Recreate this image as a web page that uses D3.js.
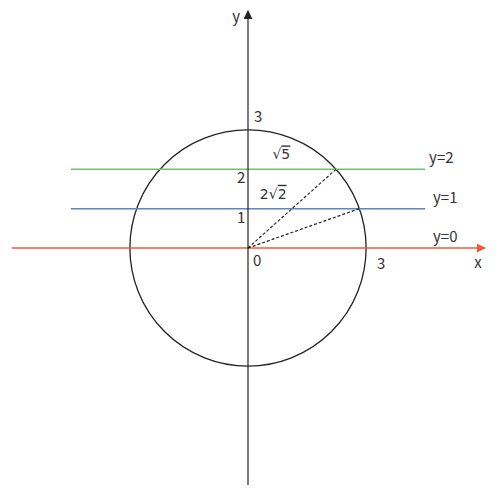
<!DOCTYPE html>
<html>
<head>
<meta charset="utf-8">
<script src="https://cdn.jsdelivr.net/npm/d3@7"></script>
<style>
  body { margin: 0; background: #fff; }
  text { font-family: "Noto Sans CJK KR", "Noto Sans", sans-serif; font-size: 15px; fill: #333; }
  .rad { font-family: "DejaVu Sans", sans-serif; font-size: 14px; }
  .under { text-decoration: overline; }
</style>
</head>
<body>
<div id="ChartArea"></div>
<script>
// data
const radius = 3;
const hLines = [
  { y: 2, label: "y=2", color: "#6fc36f" },
  { y: 1, label: "y=1", color: "#5f85c2" },
];
const xAxisLine = { y: 0, label: "y=0", color: "#ef5b3a" };
const chords = [
  { x: Math.sqrt(5), y: 2, coef: "", radicand: "5" },
  { x: Math.sqrt(8), y: 1, coef: "2", radicand: "2" }
];
const yTicks = [1, 2, 3];
const xTicks = [3];

const W = 496, H = 497;

// same scale on both axes, origin at (248,248)
const x = d3.scaleLinear().domain([-6.02, 6.02]).range([11, 485]);
const y = d3.scaleLinear().domain([-6.02, 6.02]).range([485, 11]);

const svg = d3.select("#ChartArea").append("svg")
    .attr("width", W)
    .attr("height", H);

const defs = svg.append("defs");
function arrow(id, color) {
  defs.append("marker")
      .attr("id", id)
      .attr("viewBox", "0 0 10 10")
      .attr("refX", 9).attr("refY", 5)
      .attr("markerWidth", 9).attr("markerHeight", 9)
      .attr("markerUnits", "userSpaceOnUse")
      .attr("orient", "auto")
    .append("path")
      .attr("d", "M0,0 L10,5 L0,10 Z")
      .attr("fill", color);
}
arrow("arrowRed", xAxisLine.color);
arrow("arrowBlack", "#222");

// circle
svg.append("circle")
    .attr("cx", x(0)).attr("cy", y(0))
    .attr("r", x(radius) - x(0))
    .attr("fill", "none")
    .attr("stroke", "#222")
    .attr("stroke-width", 1.3);

// horizontal lines y=1, y=2
svg.selectAll(".hline")
  .data(hLines)
  .enter().append("line")
    .attr("class", "hline")
    .attr("x1", x(-4.5)).attr("x2", x(4.5))
    .attr("y1", d => y(d.y)).attr("y2", d => y(d.y))
    .attr("stroke", d => d.color)
    .attr("stroke-width", 1.5);

// x axis (y=0) in red
svg.append("line")
    .attr("x1", x(-6)).attr("x2", x(6.02))
    .attr("y1", y(0)).attr("y2", y(0))
    .attr("stroke", xAxisLine.color)
    .attr("stroke-width", 1.5)
    .attr("marker-end", "url(#arrowRed)");

// y axis
svg.append("line")
    .attr("x1", x(0)).attr("x2", x(0))
    .attr("y1", y(-6.02)).attr("y2", y(6.02))
    .attr("stroke", "#222")
    .attr("stroke-width", 1.2)
    .attr("marker-end", "url(#arrowBlack)");

// dashed radii
svg.selectAll(".chord")
  .data(chords)
  .enter().append("line")
    .attr("class", "chord")
    .attr("x1", x(0)).attr("y1", y(0))
    .attr("x2", d => x(d.x)).attr("y2", d => y(d.y))
    .attr("stroke", "#222")
    .attr("stroke-width", 1.2)
    .attr("stroke-dasharray", "3,2");

// line labels on the right
svg.selectAll(".hlabel")
  .data(hLines.concat([xAxisLine]))
  .enter().append("text")
    .attr("class", "hlabel")
    .attr("x", (d, i) => i === 0 ? x(4.6) : x(4.7))
    .attr("y", d => y(d.y) - 6)
    .text(d => d.label);

// radius labels (√5, 2√2)
const radPos = [[0.62, 2.25], [0.3, 1.25]];
chords.forEach(function(d, i) {
  const t = svg.append("text")
      .attr("class", "rad")
      .attr("x", x(radPos[i][0]))
      .attr("y", y(radPos[i][1]));
  if (d.coef) t.append("tspan").text(d.coef);
  t.append("tspan").text("√");
  t.append("tspan").attr("class", "under").text(d.radicand);
});

// y tick labels
svg.selectAll(".ytick")
  .data(yTicks)
  .enter().append("text")
    .attr("class", "ytick")
    .attr("x", d => d === 3 ? x(0.15) : x(-0.07))
    .attr("y", d => d === 3 ? y(d) - 8 : y(d) + 14)
    .attr("text-anchor", d => d === 3 ? "start" : "end")
    .text(d => d);

// x tick labels
svg.selectAll(".xtick")
  .data(xTicks)
  .enter().append("text")
    .attr("class", "xtick")
    .attr("x", d => x(d) + 11)
    .attr("y", y(0) + 21)
    .text(d => d);

// origin
svg.append("text").attr("x", x(0) + 5).attr("y", y(0) + 18).text("0");

// axis names
svg.append("text").attr("x", x(5.75)).attr("y", y(0) + 20).text("x");
svg.append("text").attr("x", x(-0.4)).attr("y", y(5.75)).text("y");
</script>
</body>
</html>
